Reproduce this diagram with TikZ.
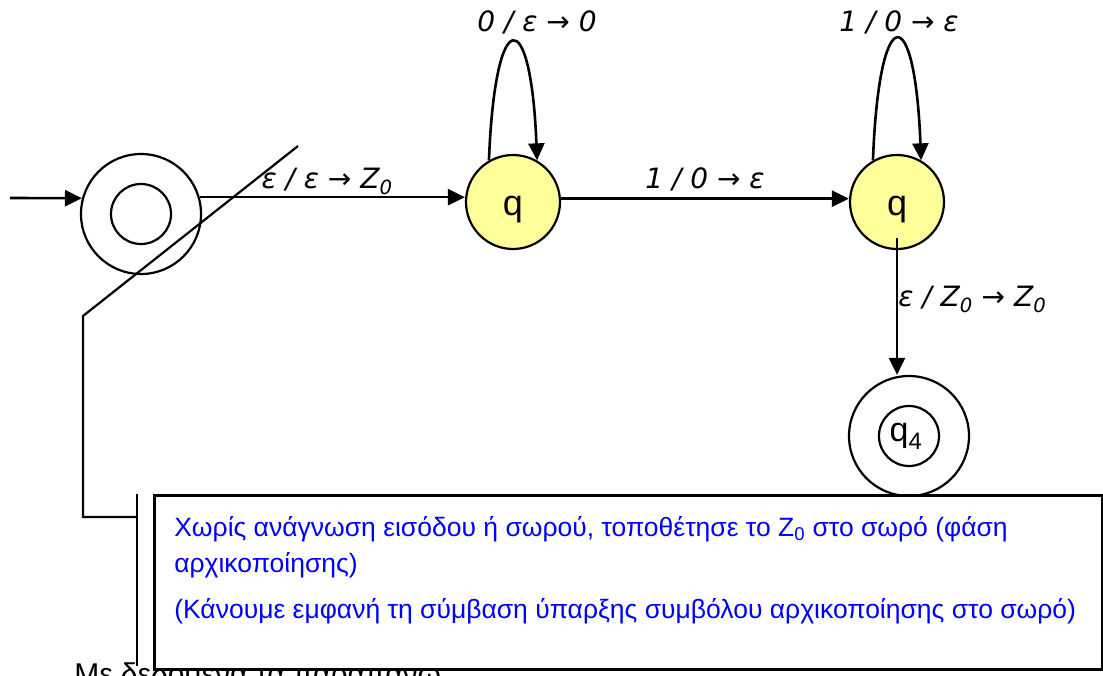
\documentclass[tikz,border=0pt]{standalone}
\usepackage{fontspec}
\setmainfont{Liberation Sans}
\newfontfamily\lblfont{DejaVu Sans}
\usepackage{tikz}
\usetikzlibrary{arrows.meta}
\definecolor{stateyellow}{RGB}{255,255,153}
\definecolor{noteblue}{RGB}{0,0,255}

\begin{document}
\begin{tikzpicture}[x=1pt,y=-1pt,->,>={Triangle[length=17pt,width=16pt]},line width=2.6pt,
  state/.style={circle,draw,line width=2.2pt,fill=stateyellow,minimum size=94pt,inner sep=0pt,font=\fontsize{36}{40}\selectfont},
  final/.style={circle,draw,line width=2.2pt,minimum size=120pt,inner sep=0pt},
  innerring/.style={circle,draw,line width=2.2pt,minimum size=60pt,inner sep=0pt,font=\fontsize{34}{38}\selectfont},
  lbl/.style={font=\lblfont\itshape\fontsize{28}{32}\selectfont,inner sep=0pt},
  note/.style={rectangle,draw,fill=white,line width=2.6pt,inner sep=0pt}]

      \useasboundingbox (0,0) rectangle (1103,675);
      \clip (0,0) rectangle (1103,675);

      \node[final] (init) at (141,214) {};
      \node[innerring] (initin) at (init) {};
      \node[state] (q1) at (513,202) {\smash{\raisebox{-13pt}{q}}};
      \node[state] (q2) at (897,202) {\smash{\raisebox{-13pt}{q}}};
      \node[final] (q4) at (909,436) {};
      \node[innerring] (q4in) at (q4) {\kern-6pt\raisebox{-2pt}{q\textsubscript{4}}};

      \coordinate (start) at (10,198);

      \draw (start) -- (init.165);
      \draw (init.16) -- node[lbl,pos=0.48,anchor=base,yshift=9pt] {ε / ε → Z\textsubscript{0}} (init.16 -| q1.west);
      \draw (q1.4) -- node[lbl,anchor=base,yshift=10pt] {1 / 0 → ε} (q1.4 -| q2.west);

      % loops on the two q states
      \draw (q1.120) .. controls (495,3) and (531,3) .. node[lbl,anchor=base,yshift=11pt,xshift=24pt] {0 / ε → 0} (q1.60);
      \draw (q2.120) .. controls (879,-1) and (915,-1) .. node[lbl,anchor=base,yshift=8pt,xshift=2pt] {1 / 0 → ε} (q2.60);

      \draw ([yshift=-36pt]q2.center) -- node[lbl,anchor=base west] {ε / Z\textsubscript{0} → Z\textsubscript{0}} (q2.center |- q4.north);

      % callout
      \coordinate (tip) at (298,146);
      \coordinate (knee) at (83,316);
      \coordinate (foot) at (83,517);
      \coordinate (tab) at (137,517);

      \node[anchor=base west,inner sep=0pt,font=\fontsize{30}{36}\selectfont] (after) at (73,684) {Με δεδομένα τα παραπάνω};

      \draw[-,line width=2.2pt] (tip) -- (knee) -- (foot) -- (tab);
      \node[note,anchor=north west,minimum width=948pt,minimum height=174pt] (note) at (153,494) {};
      \draw[-] (tab |- note.north) -- ([yshift=5pt]tab |- note.south);
      \node[anchor=north west,align=left,inner sep=0pt,text=noteblue,font=\fontsize{26.5}{36}\selectfont] (notetext) at (173,515)
        {Χωρίς ανάγνωση εισόδου ή σωρού, τοποθέτησε το Z\textsubscript{0} στο σωρό (φάση\\
         αρχικοποίησης)\\[10pt]
         (Κάνουμε εμφανή τη σύμβαση ύπαρξης συμβόλου αρχικοποίησης στο σωρό)};

\end{tikzpicture}
\end{document}
